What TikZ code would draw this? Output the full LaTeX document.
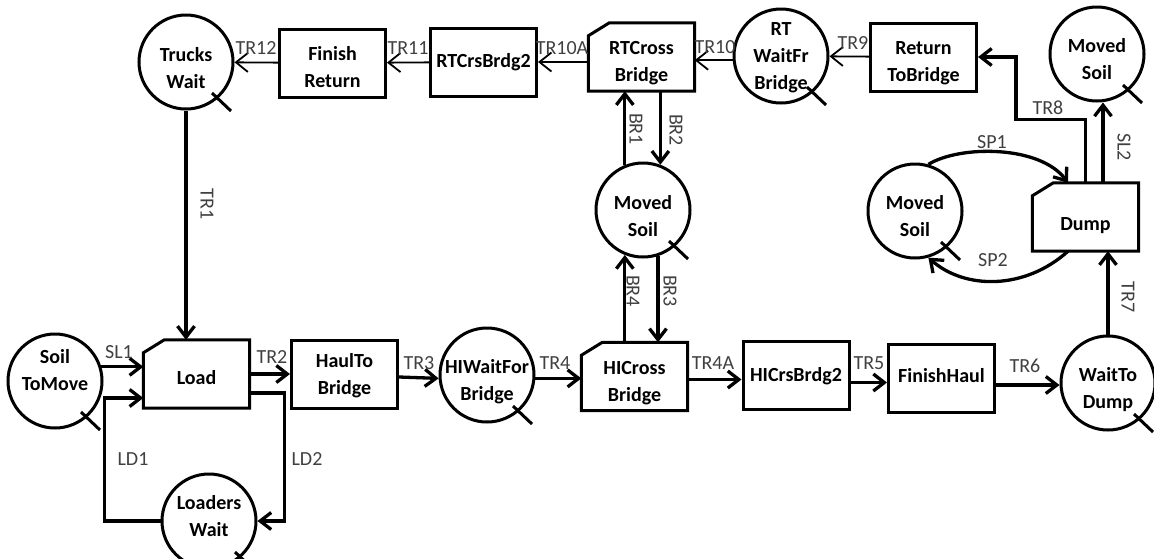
\documentclass[tikz,border=0pt]{standalone}
\usepackage{fontspec}
\setmainfont{Carlito}
\usetikzlibrary{arrows.meta,calc}
\newcommand\mline[1]{\begin{tabular}{@{}c@{}}#1\end{tabular}}
\tikzset{
  bord/.style={line width=3pt},
  cir/.style={circle, draw, line width=3pt, minimum size=94pt, inner sep=0pt},
  box/.style={rectangle, draw, line width=3pt, minimum width=106pt, minimum height=68pt, inner sep=0pt},
  cbox/.style={rectangle, minimum width=106pt, minimum height=68pt, inner sep=0pt},
  txt/.style={font=\fontsize{20}{27}\selectfont\bfseries, inner sep=0pt},
  lab/.style={font=\fontsize{20}{22}\selectfont, text=black!75, inner sep=0pt},
  tk/.style={line width=3pt},
  thinarr/.style={line width=1.8pt, -{Straight Barb[length=12pt,width=19pt]}},
  thkarr/.style={line width=3.3pt, -{Straight Barb[length=11pt,width=17pt]}},
}
\newcommand\cnode[5]{\node[cir, label={[txt,yshift=#4]center:{\mline{#5}}}] (#1) at (#2,#3) {};
  \draw[tk] (#1.center) ++(26,31) -- ++(19,18);}
\newcommand\bnode[5]{\node[box, label={[txt,yshift=#4]center:{\mline{#5}}}] (#1) at (#2,#3) {};}
\newcommand\chnode[5]{\node[cbox, label={[txt,yshift=#4]center:{\mline{#5}}}] (#1) at (#2,#3) {};
  \draw[bord] ([yshift=-13pt]#1.north west) -- ([xshift=21pt]#1.north west) -- (#1.north east) -- (#1.south east) -- (#1.south west) -- cycle;}
\begin{document}
\begin{tikzpicture}[x=1pt,y=-1pt]
\useasboundingbox (0,0) rectangle (1154,558);
% circles
\cnode{TrucksWait}{186}{62}{-7.4pt}{Trucks\\Wait}
\cnode{RTWait}{781}{56}{-0.9pt}{RT\\WaitFr\\Bridge}
\cnode{MovedTop}{1097}{54}{-6.9pt}{Moved\\Soil}
\cnode{MovedMid}{643}{210}{-7.4pt}{Moved\\Soil}
\cnode{MovedRight}{915}{211}{-6.9pt}{Moved\\Soil}
\cnode{SoilToMove}{55}{381}{9.1pt}{Soil\\ToMove}
\cnode{HIWait}{487}{375}{-6.9pt}{HIWaitFor\\Bridge}
\cnode{LoadersWait}{209}{521}{3.1pt}{Loaders\\Wait}
\cnode{WaitToDump}{1108}{383}{-6.4pt}{WaitTo\\Dump}
% boxes
\bnode{FinishReturn}{332.5}{63}{-5.9pt}{Finish\\Return}
\bnode{RTCrsBrdg2}{483.5}{62}{0.1pt}{RTCrsBrdg2}
\chnode{RTCross}{641.5}{57}{-5.9pt}{RTCross\\Bridge}
\bnode{ReturnToBridge}{923.5}{57}{-5.9pt}{Return\\ToBridge}
\chnode{Load}{196.5}{374}{-4.9pt}{Load}
\bnode{HaulToBridge}{344.5}{374}{-1.9pt}{HaulTo\\Bridge}
\chnode{HICross}{634.5}{376.5}{-6.4pt}{HICross\\Bridge}
\bnode{HICrsBrdg2}{796}{375.5}{-0.9pt}{HICrsBrdg2}
\bnode{FinishHaul}{941.5}{378}{0.6pt}{FinishHaul}
\chnode{Dump}{1085.5}{217}{-7.9pt}{Dump}
% top row (thin)
\draw[thinarr] (FinishReturn) -- (TrucksWait);
\draw[thinarr] (RTCrsBrdg2) -- (FinishReturn);
\draw[thinarr] (RTCross.west |- RTCrsBrdg2.east) -- (RTCrsBrdg2.east);
\draw[thinarr] (RTWait.185) -- (RTWait.185 -| RTCross.east);
\draw[thinarr] (ReturnToBridge) -- (RTWait);
% thick connectors
\draw[thkarr] (Dump.north) -- ++(0,-63) -| ([xshift=38pt]ReturnToBridge.east) -- (ReturnToBridge.east);
\draw[thkarr] ([xshift=17.5pt]Dump.north) -- ([xshift=17.5pt]Dump.north |- MovedTop.south);
\draw[thkarr] (WaitToDump.north) -- (WaitToDump.north |- Dump.south);
\draw[thkarr] (MovedRight.74) .. controls (960,145) and (1040,145) .. ([xshift=-17.5pt]Dump.north);
\draw[thkarr] ([xshift=-17.5pt]Dump.south) .. controls (1025,290) and (965,290) .. (MovedRight.-74);
\draw[thkarr] (TrucksWait.south) -- (TrucksWait.south |- Load.north);
\draw[thkarr] (SoilToMove.17) -- (SoilToMove.17 -| Load.west);
\draw[thkarr] (LoadersWait.west) -- ++(-56,0) |- ([yshift=-24pt]Load.west);
\draw[thkarr] ([yshift=-19pt]Load.east) -- ++(35,0) |- (LoadersWait.east);
\draw[thkarr] (Load) -- (HaulToBridge);
\draw[thkarr] ([yshift=-3pt]HaulToBridge.east) -- (HIWait.184);
\draw[thkarr] (HIWait.-4) -- (HIWait.-4 -| HICross.west);
\draw[thkarr] ([yshift=-3pt]HICross.east) -- ([yshift=-3pt]HICross.east -| HICrsBrdg2.west);
\draw[thkarr] ([yshift=-7pt]HICrsBrdg2.east) -- ([yshift=-7pt]HICrsBrdg2.east -| FinishHaul.west);
\draw[thkarr] ([yshift=-7pt]FinishHaul.east) -- ([yshift=-7pt]FinishHaul.east -| WaitToDump.west);
\draw[thkarr] (MovedMid.112.5) -- (MovedMid.112.5 |- RTCross.south);
\draw[thkarr] (MovedMid.69 |- RTCross.south) -- (MovedMid.69);
\draw[thkarr] (MovedMid.-112.5 |- HICross.north) -- (MovedMid.-112.5);
\draw[thkarr] (MovedMid.-72.7) -- (MovedMid.-72.7 |- HICross.north);
% labels
\node[lab] (lTR12) at (256,48) {TR12};
\node[lab] (lTR11) at (408,48) {TR11};
\node[lab] (lTR10A) at (562,48) {TR10A};
\node[lab] (lTR10) at (715,47) {TR10};
\node[lab] (lTR9) at (853,43) {TR9};
\node[lab] (lTR8) at (1048,108) {TR8};
\node[lab,rotate=-90] (lSL2) at (1124,147) {SL2};
\node[lab] (lSP1) at (992,142) {SP1};
\node[lab] (lSP2) at (993,260) {SP2};
\node[lab,rotate=-90] (lTR7) at (1128,297) {TR7};
\node[lab] (lTR6) at (1025,366) {TR6};
\node[lab] (lTR5) at (869,363) {TR5};
\node[lab] (lTR4A) at (713,363) {TR4A};
\node[lab] (lTR4) at (555,363) {TR4};
\node[lab] (lTR3) at (419,363) {TR3};
\node[lab] (lTR2) at (272,357) {TR2};
\node[lab] (lSL1) at (119,352) {SL1};
\node[lab] (lLD1) at (133,459) {LD1};
\node[lab] (lLD2) at (307,459) {LD2};
\node[lab,rotate=-90] (lTR1) at (207,204) {TR1};
\node[lab,rotate=-90] (lBR1) at (636,129) {BR1};
\node[lab,rotate=-90] (lBR2) at (676,130) {BR2};
\node[lab,rotate=-90] (lBR4) at (633,291) {BR4};
\node[lab,rotate=-90] (lBR3) at (670,291) {BR3};
\end{tikzpicture}
\end{document}
